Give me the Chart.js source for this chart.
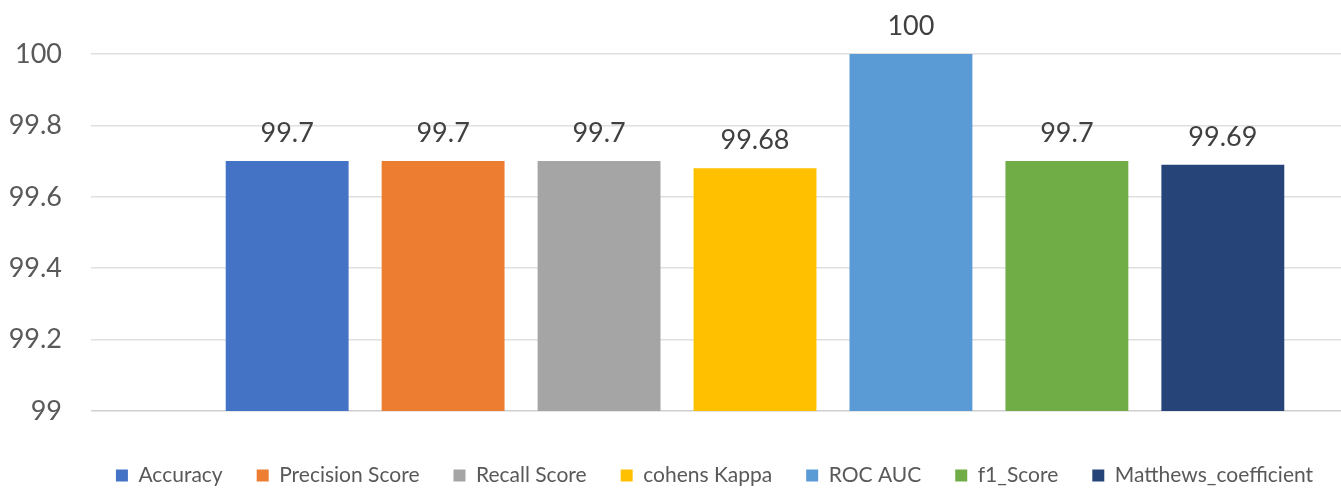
<!DOCTYPE html>
<html>
<head>
<meta charset="utf-8">
<script src="https://cdn.jsdelivr.net/npm/chart.js@4.4.1/dist/chart.umd.min.js"></script>
<style>
  html, body { margin: 0; padding: 0; background: #ffffff; overflow: hidden; }
  #wrap { width: 1341px; height: 489px; overflow: hidden; position: relative; }
  #box { width: 1430px; height: 489px; position: absolute; left: 0; top: 0; }
</style>
</head>
<body>
<div id="wrap"><div id="box"><canvas id="c" width="1430" height="489"></canvas></div></div>
<script>
const categories = [''];
const seriesNames = ['Accuracy', 'Precision Score', 'Recall Score', 'cohens Kappa', 'ROC AUC', 'f1_Score', 'Matthews_coefficient'];
const seriesValues = [99.7, 99.7, 99.7, 99.68, 100, 99.7, 99.69];
const seriesColors = ['#4472C4', '#ED7D31', '#A5A5A5', '#FFC000', '#5B9BD5', '#70AD47', '#264478'];
const yTicks = [99, 99.2, 99.4, 99.6, 99.8, 100];

const FONT = 'Lato, "Open Sans", sans-serif';

const datasets = seriesNames.map((name, i) => ({
  label: name,
  data: [seriesValues[i]],
  backgroundColor: seriesColors[i],
  borderWidth: 0,
  categoryPercentage: 0.822,
  barPercentage: 0.788
}));

const valueLabels = {
  id: 'valueLabels',
  afterDatasetsDraw(chart) {
    const ctx = chart.ctx;
    ctx.save();
    ctx.font = '27px ' + FONT;
    ctx.fillStyle = '#404040';
    ctx.textAlign = 'center';
    ctx.textBaseline = 'alphabetic';
    chart.data.datasets.forEach((ds, i) => {
      const meta = chart.getDatasetMeta(i);
      meta.data.forEach((el, j) => {
        ctx.fillText(String(ds.data[j]), el.x, el.y - 19);
      });
    });
    ctx.restore();
  }
};

// keep wide horizontal gaps between legend items while keeping the legend box short
const legendPlace = {
  id: 'legendPlace',
  beforeUpdate(chart) {
    const lg = chart.legend;
    if (lg && !lg._wrappedFit) {
      const f = lg.fit;
      lg.fit = function () { f.apply(this, arguments); this.height = 30; };
      lg._wrappedFit = true;
    }
  },
  afterLayout(chart) {
    const lg = chart.legend;
    if (lg) { lg.top = lg.bottom - 58; }
  }
};

new Chart(document.getElementById('c'), {
  type: 'bar',
  data: { labels: categories, datasets },
  plugins: [valueLabels, legendPlace],
  options: {
    responsive: false,
    animation: false,
    layout: { padding: { top: 54, left: 10, right: 11, bottom: 0 } },
    plugins: {
      tooltip: { enabled: false },
      legend: {
        position: 'bottom',
        labels: {
          boxWidth: 12,
          boxHeight: 12,
          padding: 34,
          color: '#595959',
          font: { family: FONT, size: 21 }
        }
      }
    },
    scales: {
      x: {
        ticks: { display: false },
        grid: { display: false },
        border: { display: false },
        afterFit(scale) { scale.height = 48; }
      },
      y: {
        min: 99,
        max: 100,
        afterBuildTicks(scale) { scale.ticks = yTicks.map(v => ({ value: v })); },
        afterFit(scale) { scale.width = 81; },
        ticks: {
          padding: 29,
          color: '#595959',
          font: { family: FONT, size: 27 },
          callback: (v) => String(Math.round(v * 10) / 10)
        },
        grid: {
          drawTicks: false,
          lineWidth: 1.5,
          color: (c) => (c.tick && c.tick.value === 99) ? '#cfcfcf' : '#e0e0e0'
        },
        border: { display: false }
      }
    }
  }
});
</script>
</body>
</html>
